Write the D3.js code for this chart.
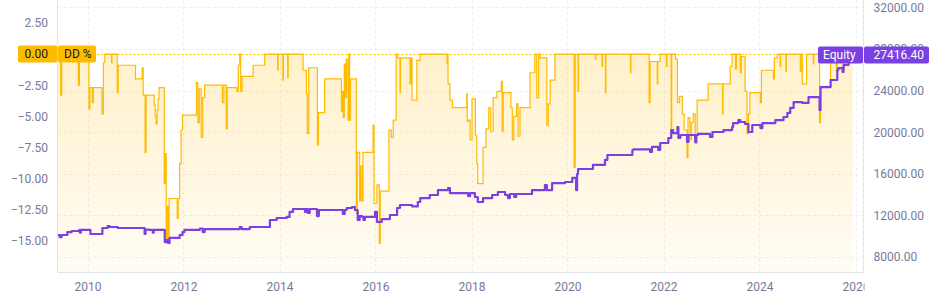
<!DOCTYPE html>
<html>
<head>
<meta charset="utf-8">
<script src="https://cdn.jsdelivr.net/npm/d3@7"></script>
<style>
  body { margin: 0; background: #fff; }
  svg text { font-family: Roboto, "Noto Sans", sans-serif; font-size: 12px; }
</style>
</head>
<body>
<div id="chart"></div>
<script>
// tick values
const yearTicks = [2010, 2012, 2014, 2016, 2018, 2020, 2022, 2024, 2026];
const ddTicks = [2.5, 0, -2.5, -5, -7.5, -10, -12.5, -15];
const equityTicks = [8000, 12000, 16000, 20000, 24000, 28000, 32000];

// drawdown %, [decimal year, value]
const drawdown = [
  [2009.37, -0.4], [2009.44, -3.3], [2009.46, -0.3], [2009.55, 0], [2009.81, -2.5], [2009.83, 0],
  [2010.03, -4.4], [2010.05, -2.7], [2010.10, -3.9], [2010.12, -2.7], [2010.30, -4.8], [2010.33, -0.7],
  [2010.36, 0], [2010.50, -0.7], [2010.51, 0], [2010.62, -3.1], [2010.64, -0.9], [2011.00, -2.0],
  [2011.14, -1.1], [2011.16, -3.3], [2011.20, -7.9], [2011.22, -3.3], [2011.39, -4.1], [2011.41, -5.0],
  [2011.43, -5.6], [2011.45, -4.5], [2011.47, -3.6], [2011.49, -2.7], [2011.60, -10.4], [2011.62, -8.0],
  [2011.64, -15.0], [2011.66, -12.2], [2011.68, -15.2], [2011.70, -11.6], [2011.87, -13.2], [2011.89, -11.6],
  [2011.92, -8.8], [2011.95, -6.1], [2011.98, -4.9], [2012.27, -2.3], [2012.30, -5.5], [2012.33, -2.8],
  [2012.37, -6.7], [2012.40, -3.5], [2012.44, -2.5], [2012.81, -3.9], [2012.84, -2.5], [2012.89, -6.0],
  [2012.91, -2.7], [2013.11, -3.0], [2013.14, -0.9], [2013.17, 0], [2013.19, -3.0], [2013.22, -1.8],
  [2013.45, -0.9], [2013.69, 0], [2013.96, -1.3], [2013.97, 0], [2014.07, -2.1], [2014.08, 0],
  [2014.17, -1.9], [2014.18, 0], [2014.49, -1.3], [2014.56, -3.2], [2014.58, -6.4], [2014.61, -1.1],
  [2014.79, -7.3], [2014.81, -4.7], [2014.94, -2.0], [2015.29, -4.6], [2015.31, -3.0], [2015.33, -5.1],
  [2015.35, -0.8], [2015.37, -3.5], [2015.39, -0.4], [2015.41, -3.0], [2015.43, -5.3], [2015.44, 0],
  [2015.46, -5.3], [2015.48, -2.0], [2015.60, -12.8], [2015.62, -7.9], [2015.67, -11.8], [2015.69, -9.0],
  [2015.72, -11.8], [2015.74, -7.9], [2015.95, -5.7], [2015.97, -12.0], [2016.03, -10.5], [2016.08, -15.2],
  [2016.10, -11.0], [2016.28, -6.1], [2016.33, -6.7], [2016.37, -5.3], [2016.43, 0], [2016.46, -0.3],
  [2016.51, -3.1], [2016.52, -0.3], [2016.72, -2.4], [2016.74, -0.3], [2016.76, -3.7], [2016.86, -0.5],
  [2016.93, 0], [2017.49, -0.8], [2017.50, 0], [2017.51, -2.4], [2017.55, -3.7], [2017.60, -4.3],
  [2017.90, -3.2], [2017.91, -5.4], [2017.93, -5.3], [2017.97, -6.9], [2018.01, -3.6], [2018.08, -6.5],
  [2018.11, -8.8], [2018.13, -10.4], [2018.24, -7.5], [2018.30, -6.0], [2018.36, -4.3], [2018.40, -6.2],
  [2018.45, -3.5], [2018.53, -3.0], [2018.62, -2.2], [2018.64, -6.2], [2018.66, -3.1], [2018.82, -4.3],
  [2018.85, -6.9], [2018.88, -5.0], [2018.94, -4.0], [2018.97, -6.6], [2019.01, -4.3], [2019.22, -1.5],
  [2019.32, 0], [2019.36, -3.5], [2019.40, 0], [2019.43, -0.3], [2019.57, -5.7], [2019.60, -4.0],
  [2019.64, -2.1], [2019.74, 0], [2020.14, -9.1], [2020.16, 0], [2020.22, -3.0], [2020.23, 0],
  [2020.58, -0.4], [2020.59, 0], [2020.72, -1.0], [2020.73, 0], [2020.79, -3.1], [2020.80, 0],
  [2021.31, -1.5], [2021.32, 0], [2021.70, -3.9], [2021.72, -0.6], [2021.87, -2.4], [2021.88, -0.6],
  [2021.93, 0], [2022.06, -1.0], [2022.07, 0], [2022.16, -6.5], [2022.17, 0], [2022.25, -0.4],
  [2022.29, -3.9], [2022.33, -3.4], [2022.39, -4.8], [2022.43, -6.1], [2022.49, -8.3], [2022.51, -5.1],
  [2022.55, -6.9], [2022.58, -5.5], [2022.62, -4.8], [2022.66, -7.2], [2022.70, -3.7], [2022.93, -2.4],
  [2023.23, -4.8], [2023.24, -2.4], [2023.39, -1.0], [2023.43, 0], [2023.50, -1.2], [2023.52, 0],
  [2023.60, -1.5], [2023.62, -0.2], [2023.70, -3.0], [2023.74, -6.4], [2023.77, -4.8], [2023.80, -3.1],
  [2024.02, -3.9], [2024.04, -1.3], [2024.29, -2.0], [2024.31, -0.3], [2024.37, 0], [2024.43, -1.0],
  [2024.44, 0], [2024.55, -1.4], [2024.56, 0], [2024.85, -1.4], [2024.86, 0], [2024.89, -2.4],
  [2024.98, 0], [2025.12, -0.8], [2025.13, 0], [2025.25, -5.5], [2025.27, -2.6], [2025.48, -0.7],
  [2025.60, -1.4], [2025.62, -0.5], [2025.75, -1.2], [2025.77, 0], [2025.85, -0.9], [2025.87, 0],
  [2025.94, 0]
];

// equity, [decimal year, value]
const equity = [
  [2009.37, 10115], [2009.42, 9920], [2009.46, 10115], [2009.58, 10400], [2009.67, 10500], [2009.83, 10600],
  [2009.84, 10340], [2009.86, 10600], [2010.06, 10210], [2010.31, 10790], [2010.42, 10980], [2010.46, 10885],
  [2010.63, 10790], [2011.19, 10210], [2011.21, 10640], [2011.29, 10600], [2011.36, 10340], [2011.38, 10600],
  [2011.61, 9440], [2011.65, 9630], [2011.68, 9350], [2011.71, 9830], [2011.92, 10115], [2011.98, 10400],
  [2012.02, 10600], [2012.34, 10740], [2012.40, 10400], [2012.44, 10690], [2013.17, 10885], [2013.21, 10690],
  [2013.38, 10885], [2013.80, 11560], [2013.94, 11750], [2014.15, 11850], [2014.21, 12330], [2014.28, 12615],
  [2014.53, 12330], [2014.55, 12615], [2014.59, 12230], [2014.63, 12615], [2014.78, 11940], [2014.82, 12520],
  [2015.32, 12135], [2015.36, 12520], [2015.40, 12710], [2015.51, 12810], [2015.57, 12520], [2015.63, 11560],
  [2015.67, 11940], [2015.72, 11850], [2015.75, 11560], [2015.78, 11850], [2015.99, 12330], [2016.03, 11370],
  [2016.13, 11650], [2016.30, 12040], [2016.45, 12710], [2016.51, 13000], [2016.76, 12860], [2016.88, 13290],
  [2016.93, 13670], [2017.13, 13960], [2017.30, 14440], [2017.51, 14630], [2017.55, 14150], [2017.93, 13860],
  [2017.97, 14150], [2018.07, 13770], [2018.13, 13290], [2018.24, 13670], [2018.43, 13960], [2018.55, 14250],
  [2018.70, 13960], [2018.76, 13670], [2018.80, 14060], [2018.89, 13770], [2018.93, 14060], [2019.26, 14440],
  [2019.53, 14920], [2019.57, 14440], [2019.68, 15110], [2019.95, 15210], [2020.10, 15600], [2020.18, 14440],
  [2020.20, 15980], [2020.22, 16460], [2020.53, 16850], [2020.78, 17330], [2020.83, 17810], [2021.35, 18290],
  [2021.37, 18340], [2021.72, 18100], [2021.76, 18580], [2021.89, 18290], [2021.93, 18960], [2022.10, 19440],
  [2022.16, 20200], [2022.20, 19920], [2022.29, 20500], [2022.31, 19440], [2022.35, 19730], [2022.49, 19060],
  [2022.52, 19730], [2022.66, 19060], [2022.68, 19730], [2022.72, 19830], [2022.97, 19540], [2023.02, 20020],
  [2023.25, 20200], [2023.43, 20500], [2023.45, 20880], [2023.56, 21170], [2023.60, 20980], [2023.70, 20790],
  [2023.77, 20020], [2023.85, 20690], [2024.02, 20400], [2024.06, 20880], [2024.33, 21170], [2024.50, 21460],
  [2024.58, 21850], [2024.64, 22330], [2024.71, 22900], [2024.89, 22810], [2025.02, 23380], [2025.25, 22130],
  [2025.27, 24340], [2025.48, 25020], [2025.62, 25980], [2025.64, 26170], [2025.73, 25790], [2025.75, 26460],
  [2025.85, 26750], [2025.92, 27416.40], [2025.94, 27416.40]
];

const ddTitle = "DD %";
const equityTitle = "Equity";

function toDate(y) {
  const yr = Math.floor(y);
  const start = Date.UTC(yr, 0, 1), end = Date.UTC(yr + 1, 0, 1);
  return new Date(start + (y - yr) * (end - start));
}

const W = 934, H = 300;
const plot = {left: 57.5, right: 863.5, top: 0, bottom: 272};
const amber = "#ffbb00", violet = "#7b40e2", axisText = "#77799a", gridColor = "#eeeef3";

const svg = d3.select("#chart").append("svg")
  .attr("width", W).attr("height", H);

const x = d3.scaleUtc()
  .domain([toDate(2009.374), toDate(2026.166)])
  .range([plot.left, plot.right]);
const yDD = d3.scaleLinear().domain([4.34, -17.5]).range([plot.top, plot.bottom]);
const yEq = d3.scaleLinear().domain([32711, 6558]).range([plot.top, plot.bottom]);

const defs = svg.append("defs");
const grad = defs.append("linearGradient").attr("id", "ddFill")
  .attr("gradientUnits", "userSpaceOnUse")
  .attr("x1", 0).attr("x2", 0).attr("y1", yDD(0)).attr("y2", plot.bottom);
grad.append("stop").attr("offset", 0).attr("stop-color", amber).attr("stop-opacity", 0.21);
grad.append("stop").attr("offset", 1).attr("stop-color", amber).attr("stop-opacity", 0.04);

defs.append("clipPath").attr("id", "plotClip").append("rect")
  .attr("x", plot.left).attr("y", plot.top)
  .attr("width", plot.right - plot.left).attr("height", plot.bottom - plot.top);
defs.append("clipPath").attr("id", "timeClip").append("rect")
  .attr("x", 0).attr("y", plot.bottom).attr("width", plot.right + 1).attr("height", H - plot.bottom);

// grid
const grid = svg.append("g").attr("stroke", gridColor).attr("stroke-dasharray", "3,3");
grid.selectAll("line.v").data(yearTicks).join("line")
  .attr("x1", d => Math.round(x(toDate(d))) + 0.5).attr("x2", d => Math.round(x(toDate(d))) + 0.5)
  .attr("y1", plot.top).attr("y2", plot.bottom);
grid.selectAll("line.h").data(equityTicks).join("line")
  .attr("x1", plot.left).attr("x2", plot.right)
  .attr("y1", d => Math.round(yEq(d)) + 0.5).attr("y2", d => Math.round(yEq(d)) + 0.5);

const series = svg.append("g").attr("clip-path", "url(#plotClip)");

// drawdown area + line
series.append("path")
  .datum(drawdown)
  .attr("fill", "url(#ddFill)")
  .attr("d", d3.area()
    .curve(d3.curveStepAfter)
    .x(d => x(toDate(d[0])))
    .y0(plot.bottom)
    .y1(d => yDD(d[1])));

series.append("path")
  .datum(drawdown)
  .attr("fill", "none")
  .attr("stroke", amber)
  .attr("stroke-width", 1.2)
  .attr("d", d3.line()
    .curve(d3.curveStepAfter)
    .x(d => x(toDate(d[0])))
    .y(d => yDD(d[1])));

// last value price line for drawdown
const lastDD = drawdown[drawdown.length - 1][1];
series.append("line")
  .attr("x1", plot.left).attr("x2", plot.right)
  .attr("y1", Math.round(yDD(lastDD)) + 0.5).attr("y2", Math.round(yDD(lastDD)) + 0.5)
  .attr("stroke", amber).attr("stroke-width", 1).attr("stroke-dasharray", "2,2");

// equity line
series.append("path")
  .datum(equity)
  .attr("fill", "none")
  .attr("stroke", violet)
  .attr("stroke-width", 2.2)
  .attr("stroke-linejoin", "round")
  .attr("d", d3.line()
    .curve(d3.curveStepAfter)
    .x(d => x(toDate(d[0])))
    .y(d => yEq(d[1])));

// borders
const border = svg.append("g").attr("stroke", "#e0e3eb").attr("stroke-width", 1);
border.append("line").attr("x1", plot.left).attr("x2", plot.left).attr("y1", 0).attr("y2", plot.bottom);
border.append("line").attr("x1", plot.right).attr("x2", plot.right).attr("y1", 0).attr("y2", plot.bottom);
border.append("line").attr("x1", plot.left).attr("x2", plot.right).attr("y1", plot.bottom + 0.5).attr("y2", plot.bottom + 0.5);

// axes
const leftAxis = svg.append("g")
  .attr("transform", `translate(${plot.left},0)`)
  .call(d3.axisLeft(yDD).tickValues(ddTicks).tickSize(0).tickPadding(9.5).tickFormat(d3.format(".2f")));
const rightAxis = svg.append("g")
  .attr("transform", `translate(${plot.right},0)`)
  .call(d3.axisRight(yEq).tickValues(equityTicks).tickSize(0).tickPadding(10).tickFormat(d3.format(".2f")));
const timeAxis = svg.append("g")
  .attr("clip-path", "url(#timeClip)")
  .append("g")
  .attr("transform", `translate(0,${plot.bottom})`)
  .call(d3.axisBottom(x).tickValues(yearTicks.map(toDate)).tickSize(0).tickPadding(10)
    .tickFormat(d3.utcFormat("%Y")));

[leftAxis, rightAxis, timeAxis].forEach(g => {
  g.select(".domain").remove();
  g.selectAll("text")
    .attr("fill", axisText)
    .style("font-family", "Roboto, 'Noto Sans', sans-serif")
    .style("font-size", "12px");
});

// labels: drawdown
const ddY = yDD(lastDD);
svg.append("rect").attr("x", 18).attr("y", ddY - 8.5).attr("width", plot.left - 18).attr("height", 17)
  .attr("rx", 2).attr("fill", amber);
svg.append("text").attr("x", 48).attr("y", ddY).attr("dy", "0.35em")
  .attr("text-anchor", "end").attr("fill", "#131722").text(d3.format(".2f")(lastDD));
svg.append("rect").attr("x", plot.left + 0.5).attr("y", ddY - 8.5).attr("width", 38).attr("height", 17)
  .attr("rx", 2).attr("fill", amber);
svg.append("text").attr("x", 64).attr("y", ddY).attr("dy", "0.35em")
  .attr("fill", "#131722").text(ddTitle);

// labels: equity
const lastEq = equity[equity.length - 1][1];
const eqY = yEq(lastEq);
svg.append("rect").attr("x", 818).attr("y", eqY - 8.5).attr("width", plot.right - 0.5 - 818).attr("height", 17)
  .attr("rx", 2).attr("fill", violet);
svg.append("text").attr("x", 823).attr("y", eqY).attr("dy", "0.35em")
  .attr("fill", "#fff").text(equityTitle);
svg.append("rect").attr("x", plot.right + 0.5).attr("y", eqY - 8.5).attr("width", 65).attr("height", 17)
  .attr("rx", 2).attr("fill", violet);
svg.append("text").attr("x", 873.5).attr("y", eqY).attr("dy", "0.35em")
  .attr("fill", "#fff").text(d3.format(".2f")(lastEq));
</script>
</body>
</html>
